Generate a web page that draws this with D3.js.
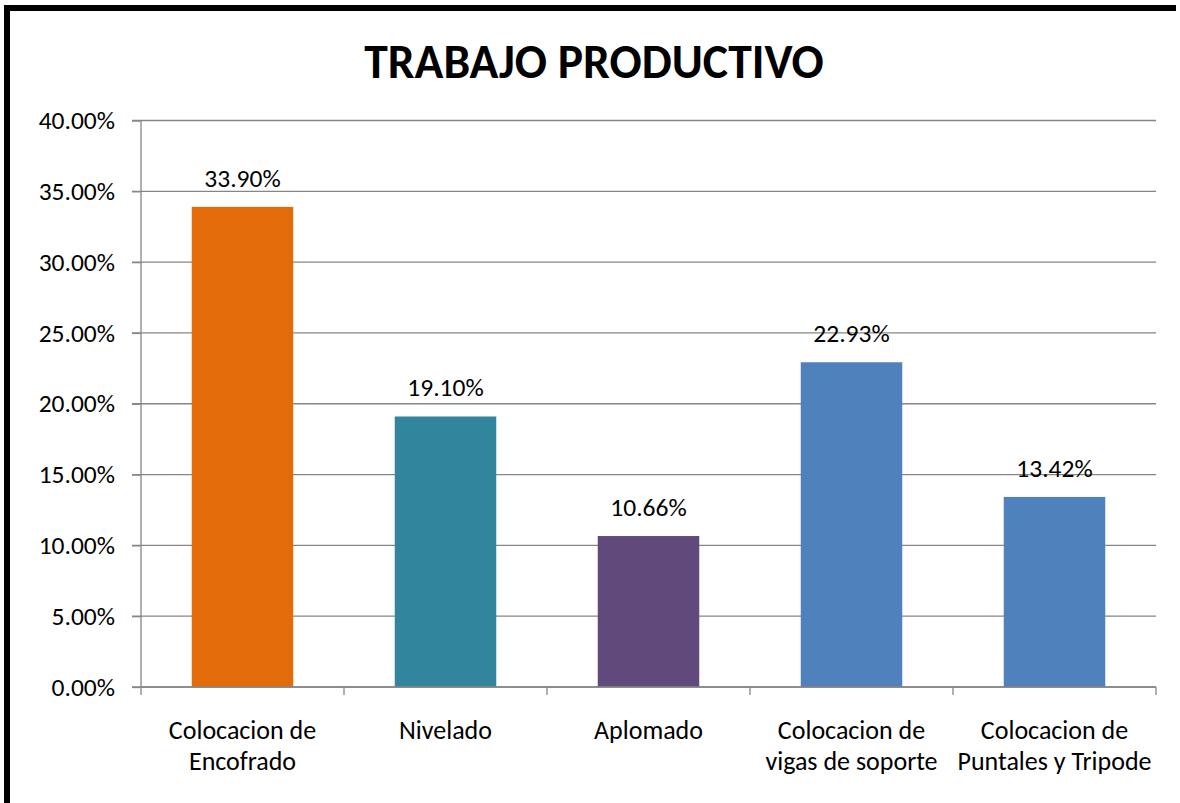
<!DOCTYPE html>
<html>
<head>
<meta charset="utf-8">
<script src="https://cdn.jsdelivr.net/npm/d3@7"></script>
<style>
  html, body { margin: 0; padding: 0; background: #fff; overflow: hidden; }
  svg { display: block; }
  svg text { font-family: Carlito, Calibri, Lato, "Open Sans", sans-serif; }
</style>
</head>
<body>
<div id="chart"></div>
<script>
// data
var categories = [
    ["Colocacion de", "Encofrado"],
    ["Nivelado"],
    ["Aplomado"],
    ["Colocacion de", "vigas de soporte"],
    ["Colocacion de", "Puntales y Tripode"]
];
var values = [33.90, 19.10, 10.66, 22.93, 13.42];
var barColors = ["#E36C0A", "#31859C", "#604A7B", "#4F81BD", "#4F81BD"];
var yTicks = [0, 5, 10, 15, 20, 25, 30, 35, 40];
var title = "TRABAJO PRODUCTIVO";

var W = 1180, H = 803;
var margin = {top: 120.5, right: 24, bottom: 116, left: 141},
    width = W - margin.left - margin.right,
    height = H - margin.top - margin.bottom;

var svg = d3.select("#chart").append("svg")
    .attr("width", W)
    .attr("height", H);

// outer frame, only left and top edges show
svg.append("line")
    .attr("x1", 7).attr("x2", 7)
    .attr("y1", 5).attr("y2", H)
    .attr("stroke", "#000")
    .attr("stroke-width", 6);
svg.append("line")
    .attr("x1", 4).attr("x2", W - 4)
    .attr("y1", 8).attr("y2", 8)
    .attr("stroke", "#000")
    .attr("stroke-width", 6);

svg.append("text")
    .attr("x", 594)
    .attr("y", 78)
    .attr("text-anchor", "middle")
    .style("font-size", "47.6px")
    .style("font-weight", "bold")
    .text(title);

var g = svg.append("g")
    .attr("transform", "translate(" + margin.left + "," + margin.top + ")");

var idx = d3.range(values.length);
var x = d3.scaleBand()
    .domain(idx)
    .range([0, width])
    .paddingInner(0.5)
    .paddingOuter(0.25);
var xb = d3.scaleBand().domain(idx).range([0, width]); // category bands for ticks

var y = d3.scaleLinear()
    .domain([0, 40])
    .range([height, 0]);

// gridlines
g.append("g")
    .selectAll("line")
    .data(yTicks)
    .enter().append("line")
    .attr("x1", -9)
    .attr("x2", width)
    .attr("y1", function(d) { return y(d); })
    .attr("y2", function(d) { return y(d); })
    .attr("stroke", "#868686")
    .attr("stroke-width", 1.3);

// y axis
var yAxis = d3.axisLeft(y)
    .tickValues(yTicks)
    .tickSize(9)
    .tickPadding(17)
    .tickFormat(function(d) { return d3.format(".2f")(d) + "%"; });
var ya = g.append("g").attr("class", "y axis").call(yAxis);
ya.select(".domain").attr("stroke", "#868686").attr("stroke-width", 1.3).attr("d", "M0," + height + "V0");
ya.selectAll(".tick line").attr("stroke", "#868686").attr("stroke-width", 1.3);
ya.selectAll(".tick text")
    .style("font-size", "25.5px")
    .attr("fill", "#000");

// bars
g.selectAll(".bar")
    .data(values)
    .enter().append("rect")
    .attr("class", "bar")
    .attr("x", function(d, i) { return x(i); })
    .attr("width", x.bandwidth())
    .attr("y", function(d) { return y(d); })
    .attr("height", function(d) { return height - y(d); })
    .attr("fill", function(d, i) { return barColors[i]; });

// value labels
g.selectAll(".val")
    .data(values)
    .enter().append("text")
    .attr("class", "val")
    .attr("x", function(d, i) { return x(i) + x.bandwidth() / 2; })
    .attr("y", function(d) { return y(d) - 20; })
    .attr("text-anchor", "middle")
    .style("font-size", "25.5px")
    .text(function(d) { return d3.format(".2f")(d) + "%"; });

// x axis
var xAxisG = g.append("g")
    .attr("transform", "translate(0," + height + ")");
xAxisG.append("line")
    .attr("x1", 0).attr("x2", width)
    .attr("stroke", "#868686").attr("stroke-width", 1.3);
xAxisG.selectAll(".xt")
    .data(d3.range(values.length + 1))
    .enter().append("line")
    .attr("x1", function(d) { return d * xb.step(); })
    .attr("x2", function(d) { return d * xb.step(); })
    .attr("y1", 0).attr("y2", 8)
    .attr("stroke", "#868686").attr("stroke-width", 1.3);

var labels = xAxisG.selectAll(".cat")
    .data(categories)
    .enter().append("text")
    .attr("class", "cat")
    .attr("text-anchor", "middle")
    .style("font-size", "26px")
    .attr("transform", function(d, i) { return "translate(" + (xb(i) + xb.bandwidth() / 2) + ",52)"; });
labels.selectAll("tspan")
    .data(function(d) { return d; })
    .enter().append("tspan")
    .attr("x", 0)
    .attr("y", function(d, i) { return i * 31; })
    .text(function(d) { return d; });
</script>
</body>
</html>
